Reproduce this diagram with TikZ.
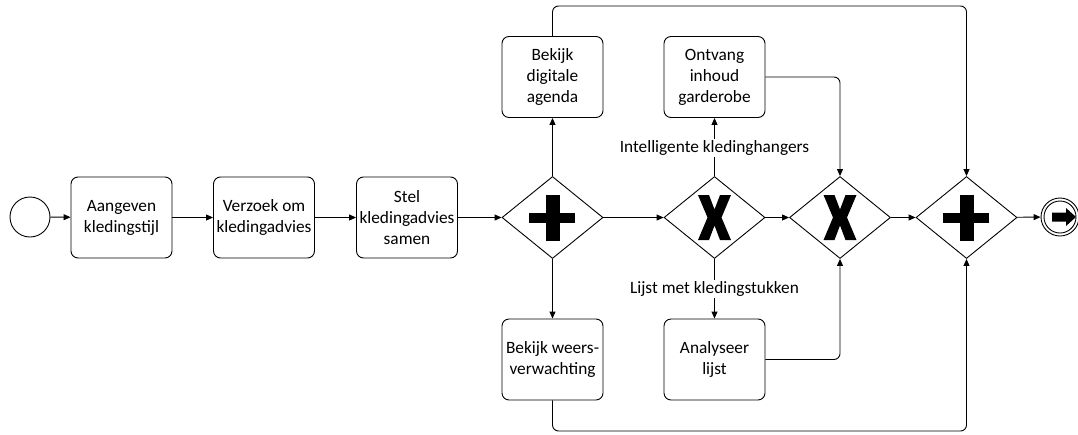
\documentclass[tikz,border=0pt]{standalone}
\usepackage{fontspec}
\setmainfont{Carlito}
\usetikzlibrary{shapes.geometric,arrows.meta}
\begin{document}
\begin{tikzpicture}[x=1pt,y=-1pt,
  line width=0.9pt,
  task/.style={draw, rounded corners=7pt, minimum width=101pt, minimum height=81pt,
    align=center, inner sep=0pt, font=\fontsize{17.3}{21}\selectfont},
  gate/.style={draw, diamond, aspect=1.23, minimum width=101pt, minimum height=82pt, inner sep=0pt},
  flow/.style={-{Triangle[length=7pt,width=6pt]}},
  lbl/.style={fill=white, inner sep=2pt, font=\fontsize{17.3}{21}\selectfont},
  bar/.style={fill=black, draw=none}]
\useasboundingbox (0,0) rectangle (1078,434);

% events
\node[draw, circle, minimum size=40pt, inner sep=0pt] (start) at (30,217) {};
\node[draw, circle, minimum size=38pt, inner sep=0pt] (end) at (1060,217) {};
\node[draw, circle, minimum size=32pt, inner sep=0pt] (endin) at (1060,217) {};
\fill (1052,212.5) -- (1066,212.5) -- (1066,208) -- (1076,217) -- (1066,226) -- (1066,221.5) -- (1052,221.5) -- cycle;

% tasks
\node[task] (t1) at (121.5,217.5) {Aangeven\\kledingstijl};
\node[task] (t2) at (264,217.5) {Verzoek om\\kledingadvies};
\node[task] (t3) at (407,217.5) {Stel\\kledingadvies\\samen};
\node[task] (agenda) at (552.5,77) {Bekijk\\digitale\\agenda};
\node[task] (weer) at (552.5,359.5) {Bekijk weers-\\verwachting};
\node[task] (ontvang) at (714.5,77) {Ontvang\\inhoud\\garderobe};
\node[task] (analyse) at (714.5,359.5) {Analyseer\\lijst};

% gateways
\node[gate] (g1) at (552.5,217.5) {};
\node[gate] (g2) at (714.5,217.5) {};
\node[gate] (g3) at (840,217.5) {};
\node[gate] (g4) at (966.5,217.5) {};
% parallel markers
\fill[bar] (529,213) rectangle (575,223);
\fill[bar] (545.5,195) rectangle (559.5,241);
\fill[bar] (943,213) rectangle (989,223);
\fill[bar] (959.5,195) rectangle (973.5,241);
% exclusive markers
\foreach \g in {g2,g3}{
  \fill[bar, shift={(\g)}] (-16.5,-22.5) -- (-5.5,-22.5) -- (0,-8) -- (5.5,-22.5) -- (16.5,-22.5)
    -- (7,0) -- (16.5,22.5) -- (5.5,22.5) -- (0,8) -- (-5.5,22.5) -- (-16.5,22.5) -- (-7,0) -- cycle;
}

% sequence flows
\coordinate (topy) at (0,6);
\coordinate (boty) at (0,431);
\draw[flow] (start) -- (t1);
\draw[flow] (t1) -- (t2);
\draw[flow] (t2) -- (t3);
\draw[flow] (t3) -- (g1);
\draw[flow] (g1) -- (g2);
\draw[flow] (g2) -- (g3);
\draw[flow] (g3) -- (g4);
\draw[flow] (g4) -- (end);
\draw[flow] (g1.north) -- (agenda.south);
\draw[flow] (g1.south) -- (weer.north);
\draw[flow] (g2.north) -- (ontvang.south);
\draw[flow] (g2.south) -- (analyse.north);
\draw[flow, rounded corners=6pt] (agenda.north) -- (agenda.north |- topy) -- (g4.north |- topy) -- (g4.north);
\draw[flow, rounded corners=6pt] (weer.south) -- (weer.south |- boty) -- (g4.south |- boty) -- (g4.south);
\draw[flow, rounded corners=6pt] (ontvang.east) -- (g3.north |- ontvang.east) -- (g3.north);
\draw[flow, rounded corners=6pt] (analyse.east) -- (g3.south |- analyse.east) -- (g3.south);

% flow labels
\node[lbl] (lblup) at (714.5,148) {Intelligente kledinghangers};
\node[lbl] (lbldown) at (714.5,289) {Lijst met kledingstukken};
\end{tikzpicture}
\end{document}
